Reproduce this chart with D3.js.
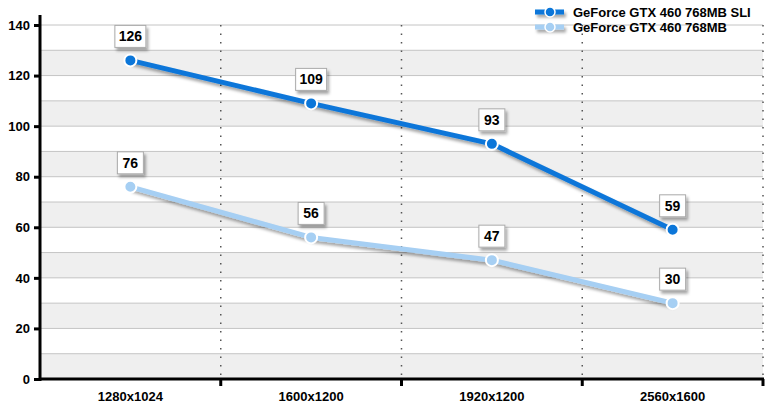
<!DOCTYPE html>
<html><head><meta charset="utf-8">
<script src="https://cdn.jsdelivr.net/npm/d3@7"></script>
<style>body{margin:0;background:#fff}svg{display:block;font-family:"Liberation Sans",Arial,sans-serif}</style>
</head><body><svg id="c" width="770" height="405"></svg>
<script>
const categories = ["1280x1024","1600x1200","1920x1200","2560x1600"];
const seriesNames = ["GeForce GTX 460 768MB SLI","GeForce GTX 460 768MB"];
const sliValues = [126,109,93,59];
const singleValues = [76,56,47,30];
const yTicks = [0,20,40,60,80,100,120,140];
const colors = ["#0b76d9","#a6cff3"];

const svg = d3.select("#c");
const L=40,R=763,T=25,B=379;
const x = d3.scaleBand().domain(categories).range([L,R]);
const y = d3.scaleLinear().domain([0,140]).range([B,T]);

const defs = svg.append("defs");
const f = defs.append("filter").attr("id","sh").attr("filterUnits","userSpaceOnUse")
  .attr("x",0).attr("y",0).attr("width",770).attr("height",405);
f.append("feDropShadow").attr("dx",2).attr("dy",3).attr("stdDeviation",1.5).attr("flood-color","#000").attr("flood-opacity",0.35);

// bands
const bands = d3.range(0,140,10);
svg.append("g").selectAll("rect").data(bands).join("rect")
  .attr("x",L).attr("width",R-L)
  .attr("y",d=>y(d+10)).attr("height",d=>y(d)-y(d+10))
  .attr("fill",d=>(d/10)%2===0?"#efefef":"#fff");
svg.append("g").selectAll("line").data(d3.range(10,150,10)).join("line")
  .attr("x1",L).attr("x2",R).attr("y1",d=>y(d)).attr("y2",d=>y(d))
  .attr("stroke","#c4c4c4").attr("stroke-width",1);

// vertical dotted
const bounds = categories.map(c=>x(c)+x.bandwidth());
svg.append("g").selectAll("line").data(bounds).join("line")
  .attr("x1",d=>d).attr("x2",d=>d).attr("y1",T).attr("y2",B)
  .attr("stroke","#555").attr("stroke-width",1.5).attr("stroke-dasharray","1.5,7");

// axes
const ya = svg.append("g").attr("transform",`translate(${L},0)`)
  .call(d3.axisLeft(y).tickValues(yTicks).tickSize(6).tickPadding(4));
ya.select(".domain").remove();
ya.selectAll("line").attr("stroke","#000").attr("stroke-width",3);
ya.selectAll("text").attr("font-size",13).attr("font-weight","bold").attr("fill","#000").attr("font-family","Liberation Sans, Arial, sans-serif");
svg.append("line").attr("x1",L).attr("x2",L).attr("y1",15).attr("y2",B+2).attr("stroke","#000").attr("stroke-width",3);

svg.append("line").attr("x1",L-1).attr("x2",R+1).attr("y1",B).attr("y2",B).attr("stroke","#000").attr("stroke-width",3);
svg.append("g").selectAll("line").data(bounds).join("line")
  .attr("x1",d=>d).attr("x2",d=>d).attr("y1",B).attr("y2",B+7).attr("stroke","#000").attr("stroke-width",3);
svg.append("g").selectAll("text").data(categories).join("text")
  .attr("x",d=>x(d)+x.bandwidth()/2).attr("y",B+22).attr("text-anchor","middle")
  .attr("font-size",13).attr("font-weight","bold").text(d=>d);

// series
const series = [sliValues, singleValues];
const line = d3.line().x((d,i)=>x(categories[i])+x.bandwidth()/2).y(d=>y(d));
series.forEach((vals,si)=>{
  const g = svg.append("g");
  g.append("path").datum(vals).attr("d",line).attr("fill","none")
    .attr("stroke",colors[si]).attr("stroke-width",5).attr("stroke-linejoin","round").attr("filter","url(#sh)");
  g.selectAll("circle").data(vals).join("circle")
    .attr("cx",(d,i)=>x(categories[i])+x.bandwidth()/2).attr("cy",d=>y(d)).attr("r",6)
    .attr("fill",colors[si]).attr("stroke","#fff").attr("stroke-width",2);
});
// labels
series.forEach((vals)=>{
  const g = svg.append("g");
  vals.forEach((v,i)=>{
    const cx = x(categories[i])+x.bandwidth()/2, cy=y(v)-24;
    const w = String(v).length>2?31:26, h=22;
    g.append("rect").attr("x",cx-w/2).attr("y",cy-h/2).attr("width",w).attr("height",h)
      .attr("fill","#fff").attr("stroke","#aaa").attr("stroke-width",1).attr("filter","url(#sh)");
    g.append("text").attr("x",cx).attr("y",cy+5).attr("text-anchor","middle")
      .attr("font-size",14).attr("font-weight","bold").text(v);
  });
});

// legend
seriesNames.forEach((n,i)=>{
  const ly = 12+i*15;
  const g = svg.append("g");
  g.append("rect").attr("x",535).attr("y",ly-2.5).attr("width",29).attr("height",5)
    .attr("fill",colors[i]).attr("filter","url(#sh)");
  g.append("circle").attr("cx",550).attr("cy",ly).attr("r",5).attr("fill",colors[i]).attr("stroke","#fff").attr("stroke-width",1.5);
  g.append("text").attr("x",573).attr("y",ly+5).attr("font-size",13).attr("font-weight","bold").text(n);
});
</script></body></html>
